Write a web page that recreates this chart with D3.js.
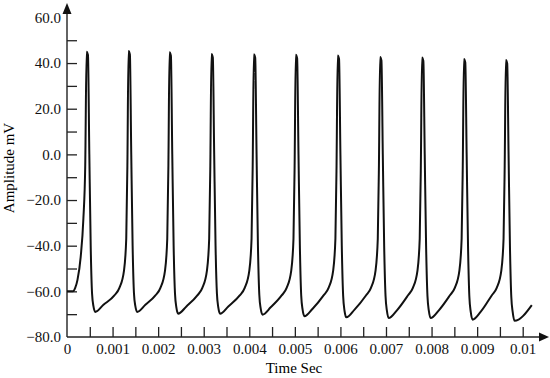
<!DOCTYPE html>
<html>
<head>
<meta charset="utf-8">
<script src="https://cdn.jsdelivr.net/npm/d3@7"></script>
<style>
  body { margin: 0; background: #fff; }
  svg { display: block; }
</style>
</head>
<body>
<div id="chart"></div>
<script>
// membrane potential trace, time in ms, amplitude in mV
var timeMs = [
  0, 0.13, 0.18, 0.23, 0.30, 0.36, 0.40, 0.43,
  0.46, 0.49, 0.52, 0.55, 0.58, 0.62, 0.80,
  1.04, 1.15, 1.25, 1.30, 1.325, 1.35,
  1.38, 1.41, 1.44, 1.47, 1.50, 1.54, 1.72,
  1.94, 2.05, 2.15, 2.20, 2.225, 2.25,
  2.28, 2.31, 2.34, 2.37, 2.40, 2.44, 2.62,
  2.86, 2.97, 3.07, 3.12, 3.145, 3.17,
  3.20, 3.23, 3.26, 3.29, 3.32, 3.36, 3.54,
  3.79, 3.90, 4.00, 4.05, 4.075, 4.10,
  4.13, 4.16, 4.19, 4.22, 4.25, 4.29, 4.47,
  4.71, 4.82, 4.92, 4.97, 4.995, 5.02,
  5.05, 5.08, 5.11, 5.14, 5.17, 5.21, 5.39,
  5.63, 5.74, 5.84, 5.89, 5.915, 5.94,
  5.97, 6.00, 6.03, 6.06, 6.09, 6.13, 6.31,
  6.56, 6.67, 6.77, 6.82, 6.845, 6.87,
  6.90, 6.93, 6.96, 6.99, 7.02, 7.06, 7.24,
  7.48, 7.59, 7.69, 7.74, 7.765, 7.79,
  7.82, 7.85, 7.88, 7.91, 7.94, 7.98, 8.16,
  8.40, 8.51, 8.61, 8.66, 8.685, 8.71,
  8.74, 8.77, 8.80, 8.83, 8.86, 8.90, 9.08,
  9.32, 9.43, 9.53, 9.58, 9.605, 9.63,
  9.66, 9.69, 9.72, 9.75, 9.78, 9.82,
  10.20
];
var amplitude = [
  -60, -60, -58.5, -55, -45, -28, -5, 45.0,
  43.5, 0, -40, -61, -66.5, -69.0, -65.9,
  -61.8, -58.5, -51, -37, -5, 45.3,
  43.8, 0, -40, -61, -66.5, -69.0, -65.9,
  -61.8, -58.5, -51, -37, -5, 44.7,
  43.2, 0, -40, -61, -67, -69.8, -66.6,
  -61.8, -58.5, -51, -37, -5, 44.0,
  42.5, 0, -40, -61, -67, -69.8, -66.6,
  -61.8, -58.5, -51, -37, -5, 43.9,
  42.4, 0, -40, -61.5, -67.5, -70.2, -67.0,
  -61.8, -58.5, -51, -37, -5, 43.6,
  42.1, 0, -40, -62, -68, -70.9, -67.6,
  -61.8, -58.5, -51, -37, -5, 43.3,
  41.8, 0, -40, -62, -68.5, -71.4, -68.0,
  -61.8, -58.5, -51, -37, -5, 42.6,
  41.1, 0, -40, -62, -68.5, -71.7, -68.3,
  -61.8, -58.5, -51, -37, -5, 42.4,
  40.9, 0, -40, -62, -68.5, -71.7, -68.3,
  -61.8, -58.5, -51, -37, -5, 41.8,
  40.3, 0, -40, -62.5, -69, -72.4, -68.9,
  -61.8, -58.5, -51, -37, -5, 41.3,
  39.8, 0, -40, -62.5, -69, -72.9,
  -66
];

var xTickLabels = [0, 0.001, 0.002, 0.003, 0.004, 0.005, 0.006, 0.007, 0.008, 0.009, 0.01];
var yTickLabels = [-80, -60, -40, -20, 0, 20, 40, 60];
var xLabel = "Time Sec";
var yLabel = "Amplitude mV";

var width = 550, height = 378;
var serif = "'Liberation Serif', 'DejaVu Serif', serif";

var svg = d3.select("#chart").append("svg")
    .attr("width", width)
    .attr("height", height);

var x = d3.scaleLinear().domain([0, 0.01]).range([67, 522.7]);
var y = d3.scaleLinear().domain([-80, 60]).range([337, 17.4]);

function styleAxis(g){
    g.select(".domain").remove();
    g.selectAll("line").attr("stroke", "#222").attr("stroke-width", 1.3);
    g.selectAll("text")
        .style("font-family", serif)
        .style("font-size", "15px")
        .attr("fill", "#111");
}

// x axis: minor + major ticks point up, labels below
var xTicks = d3.range(1, 21).map(function(i){ return i * 0.0005; });
svg.append("g")
    .attr("transform", "translate(0," + y(-80) + ")")
    .call(d3.axisBottom(x).tickValues(xTicks).tickSize(-10).tickFormat(""))
    .call(styleAxis);

svg.append("g")
    .attr("transform", "translate(0," + y(-80) + ")")
    .call(d3.axisBottom(x).tickValues(xTickLabels).tickSize(0).tickPadding(6)
        .tickFormat(function(d){ return String(+d.toFixed(4)); }))
    .call(styleAxis)
    .selectAll("line").remove();

// y axis: ticks point right, labels on the left
var yTicks = d3.range(-70, 60, 10);
svg.append("g")
    .attr("transform", "translate(" + x(0) + ",0)")
    .call(d3.axisLeft(y).tickValues(yTicks).tickSize(-10).tickFormat(""))
    .call(styleAxis);

svg.append("g")
    .attr("transform", "translate(" + x(0) + ",0)")
    .call(d3.axisLeft(y).tickValues(yTickLabels).tickSize(0).tickPadding(6)
        .tickFormat(d3.format(".1f")))
    .call(styleAxis)
    .selectAll("line").remove();

// axis lines with arrow heads
svg.append("line")
    .attr("x1", x(0)).attr("x2", 543)
    .attr("y1", y(-80)).attr("y2", y(-80))
    .attr("stroke", "#222").attr("stroke-width", 1.4);
svg.append("path")
    .attr("d", "M549," + y(-80) + "L539," + (y(-80) - 4.5) + "L539," + (y(-80) + 4.5) + "Z")
    .attr("fill", "#111");

svg.append("line")
    .attr("x1", x(0)).attr("x2", x(0))
    .attr("y1", y(-80)).attr("y2", 10)
    .attr("stroke", "#222").attr("stroke-width", 1.4);
svg.append("path")
    .attr("d", "M" + x(0) + ",3L" + (x(0) - 4.5) + ",14L" + (x(0) + 4.5) + ",14Z")
    .attr("fill", "#111");

// trace
var trace = timeMs.map(function(t, i){ return [t / 1000, amplitude[i]]; });
var line = d3.line()
    .x(function(d){ return x(d[0]); })
    .y(function(d){ return y(d[1]); })
    .curve(d3.curveMonotoneX);

svg.append("path")
    .datum(trace)
    .attr("fill", "none")
    .attr("stroke", "#111")
    .attr("stroke-width", 2)
    .attr("stroke-linejoin", "round")
    .attr("d", line);

// axis titles
svg.append("text")
    .attr("x", 294).attr("y", 373)
    .attr("text-anchor", "middle")
    .style("font-family", serif)
    .style("font-size", "15px")
    .text(xLabel);

svg.append("text")
    .attr("transform", "translate(14,168) rotate(-90)")
    .attr("text-anchor", "middle")
    .style("font-family", serif)
    .style("font-size", "15px")
    .text(yLabel);
</script>
</body>
</html>
